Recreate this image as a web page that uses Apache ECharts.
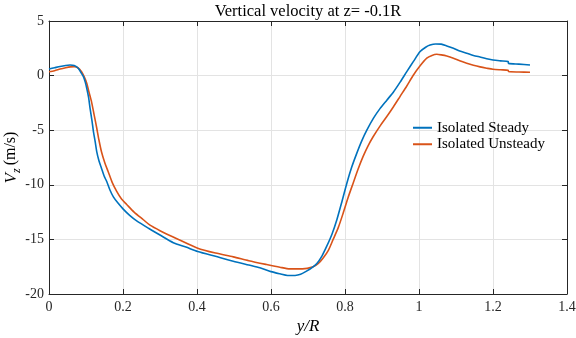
<!DOCTYPE html>
<html>
<head>
<meta charset="utf-8">
<script src="https://cdn.jsdelivr.net/npm/echarts@6/dist/echarts.min.js"></script>
<style>
  html, body { margin: 0; padding: 0; background: #fff; }
  #chart { width: 576px; height: 338px; }
</style>
</head>
<body>
<div id="chart"></div>
<script>
// Spanwise position y/R and vertical velocity Vz (m/s), steady case
const ySteady = [0, 0.015, 0.03, 0.045, 0.057, 0.068, 0.079, 0.087, 0.093, 0.098, 0.102, 0.107, 0.111, 0.116, 0.120, 0.125, 0.129, 0.135, 0.142, 0.149, 0.156, 0.165, 0.174, 0.187, 0.200, 0.218, 0.237, 0.27, 0.300, 0.336, 0.37, 0.402, 0.45, 0.498, 0.54, 0.570, 0.60, 0.624, 0.645, 0.665, 0.68, 0.696, 0.71, 0.724, 0.738, 0.751, 0.765, 0.778, 0.792, 0.805, 0.818, 0.832, 0.845, 0.859, 0.877, 0.895, 0.913, 0.931, 0.949, 0.967, 0.985, 1.003, 1.018, 1.03, 1.045, 1.06, 1.075, 1.093, 1.11, 1.129, 1.147, 1.165, 1.183, 1.2, 1.22, 1.241, 1.242, 1.27, 1.3];
const vzSteady = [0.60, 0.72, 0.84, 0.93, 0.97, 0.92, 0.67, 0.25, -0.1, -0.6, -1.16, -2.0, -3.0, -4.1, -5.1, -6.1, -6.96, -7.8, -8.5, -9.2, -9.7, -10.5, -11.1, -11.7, -12.2, -12.8, -13.3, -14.0, -14.6, -15.3, -15.7, -16.1, -16.55, -17.0, -17.35, -17.6, -17.95, -18.15, -18.3, -18.3, -18.2, -17.9, -17.6, -17.2, -16.5, -15.6, -14.5, -13.2, -11.5, -9.85, -8.4, -7.1, -6.0, -5.0, -3.9, -3.0, -2.25, -1.5, -0.6, 0.36, 1.3, 2.2, 2.6, 2.8, 2.9, 2.88, 2.72, 2.5, 2.25, 2.05, 1.85, 1.7, 1.55, 1.43, 1.35, 1.28, 1.12, 1.05, 0.97];

// Unsteady case
const yUnsteady = [0, 0.015, 0.03, 0.045, 0.058, 0.068, 0.078, 0.088, 0.095, 0.102, 0.108, 0.115, 0.122, 0.129, 0.135, 0.142, 0.151, 0.160, 0.171, 0.183, 0.196, 0.210, 0.23, 0.255, 0.273, 0.300, 0.35, 0.402, 0.45, 0.498, 0.54, 0.588, 0.624, 0.651, 0.685, 0.714, 0.728, 0.741, 0.755, 0.768, 0.782, 0.795, 0.808, 0.822, 0.835, 0.849, 0.862, 0.876, 0.895, 0.913, 0.931, 0.949, 0.967, 0.985, 1.003, 1.021, 1.035, 1.048, 1.06, 1.075, 1.093, 1.11, 1.129, 1.147, 1.165, 1.183, 1.2, 1.22, 1.241, 1.242, 1.27, 1.3];
const vzUnsteady = [0.36, 0.45, 0.6, 0.72, 0.8, 0.82, 0.72, 0.36, -0.1, -0.7, -1.5, -2.4, -3.6, -4.8, -5.9, -7.0, -8.0, -8.8, -9.8, -10.6, -11.3, -11.8, -12.5, -13.2, -13.7, -14.2, -15.0, -15.8, -16.25, -16.6, -16.95, -17.3, -17.55, -17.7, -17.7, -17.5, -17.2, -16.7, -16.0, -15.0, -13.9, -12.6, -11.2, -9.85, -8.6, -7.4, -6.45, -5.6, -4.6, -3.75, -2.85, -1.9, -0.95, 0.06, 0.9, 1.6, 1.85, 1.95, 1.9, 1.8, 1.6, 1.35, 1.13, 0.95, 0.8, 0.68, 0.58, 0.53, 0.49, 0.37, 0.33, 0.30];

const seriesNames = ['Isolated Steady', 'Isolated Unsteady'];
const seriesColors = ['#0072BD', '#D95319'];
const titleText = 'Vertical velocity at z= -0.1R';

const FONT = '"Liberation Serif", "Times New Roman", serif';
const AXIS_COLOR = '#262626';
const GRID_COLOR = '#e3e3e3';

const pairs = (xs, ys) => xs.map((x, i) => [x, ys[i]]);

const xBase = { type: 'value', min: 0, max: 1.4, interval: 0.2 };
const yBase = { type: 'value', min: -20, max: 5, interval: 5 };
const lineStyle = { color: AXIS_COLOR, width: 1 };
const frameLine = { onZero: false, lineStyle: lineStyle };

const chart = echarts.init(document.getElementById('chart'), null, { renderer: 'canvas' });
chart.setOption({
  animation: false,
  backgroundColor: '#ffffff',
  title: {
    text: titleText,
    left: 308,
    top: 3,
    textAlign: 'center',
    padding: 0,
    textStyle: { fontFamily: FONT, fontSize: 16.5, fontWeight: 'normal', color: '#000' }
  },
  grid: { left: 49, right: 9, top: 21, bottom: 44, containLabel: false, outerBoundsMode: 'none' },
  legend: {
    orient: 'vertical',
    left: 413,
    top: 119.5,
    padding: 0,
    icon: 'rect',
    itemWidth: 19,
    itemHeight: 2,
    itemGap: 0,
    textStyle: { fontFamily: FONT, fontSize: 15, color: '#000', lineHeight: 16.5 },
    data: seriesNames.map((n, i) => ({ name: n, itemStyle: { color: seriesColors[i] } }))
  },
  xAxis: [
    Object.assign({}, xBase, {
      position: 'bottom',
      name: 'y/R',
      nameLocation: 'middle',
      nameGap: 24,
      nameMoveOverlap: false,
      nameTextStyle: { fontFamily: FONT, fontSize: 17, fontStyle: 'italic', color: '#000' },
      axisLine: frameLine,
      axisTick: { inside: true, length: 5, lineStyle: lineStyle },
      axisLabel: { fontFamily: FONT, fontSize: 14, color: '#262626', margin: 6 },
      splitLine: { show: true, lineStyle: { color: GRID_COLOR, width: 1 } }
    }),
    Object.assign({}, xBase, {
      position: 'top',
      axisLine: frameLine,
      axisTick: { inside: true, length: 5, lineStyle: lineStyle },
      axisLabel: { show: false },
      splitLine: { show: false }
    })
  ],
  yAxis: [
    Object.assign({}, yBase, {
      position: 'left',
      name: '{v|V}{s|z} {n|(m/s)}',
      nameLocation: 'middle',
      nameRotate: 90,
      nameGap: 26,
      nameMoveOverlap: false,
      nameTextStyle: {
        fontFamily: FONT, color: '#000',
        rich: {
          v: { fontFamily: FONT, fontSize: 17, fontStyle: 'italic', color: '#000', verticalAlign: 'top' },
          s: { fontFamily: FONT, fontSize: 12, fontStyle: 'italic', color: '#000', verticalAlign: 'bottom', padding: [8, 0, 0, 0] },
          n: { fontFamily: FONT, fontSize: 16, color: '#000', verticalAlign: 'top' }
        }
      },
      axisLine: frameLine,
      axisTick: { inside: true, length: 5, lineStyle: lineStyle },
      axisLabel: { fontFamily: FONT, fontSize: 14, color: '#262626', margin: 5 },
      splitLine: { show: true, lineStyle: { color: GRID_COLOR, width: 1 } }
    }),
    Object.assign({}, yBase, {
      position: 'right',
      axisLine: frameLine,
      axisTick: { inside: true, length: 5, lineStyle: lineStyle },
      axisLabel: { show: false },
      splitLine: { show: false }
    })
  ],
  series: seriesNames.map((name, i) => ({
    name: name,
    type: 'line',
    xAxisIndex: 0,
    yAxisIndex: 0,
    data: i === 0 ? pairs(ySteady, vzSteady) : pairs(yUnsteady, vzUnsteady),
    symbol: 'none',
    smooth: 0.25,
    lineStyle: { color: seriesColors[i], width: 1.6 },
    itemStyle: { color: seriesColors[i] },
    z: 3 - i
  }))
});
</script>
</body>
</html>
